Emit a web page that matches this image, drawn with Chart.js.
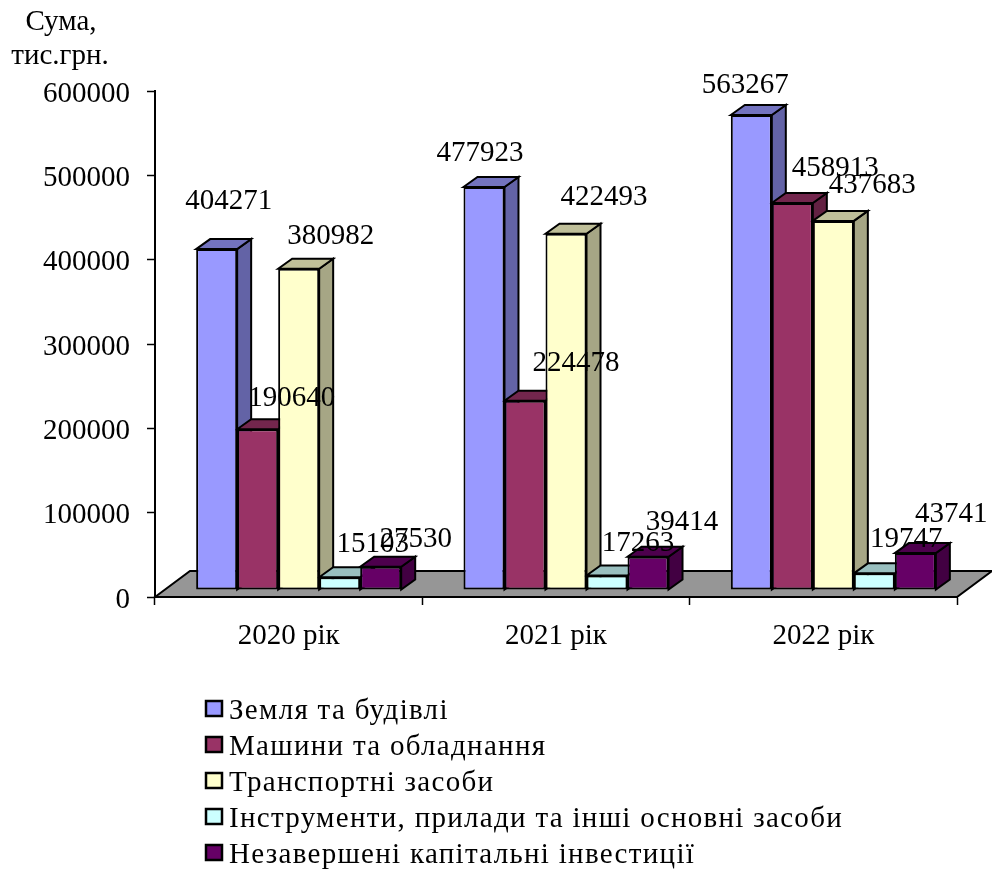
<!DOCTYPE html>
<html lang="uk">
<head>
<meta charset="utf-8">
<title>Основні засоби</title>
<style>html,body{margin:0;padding:0;background:#fff}canvas{display:block}</style>
<script src="https://cdn.jsdelivr.net/npm/chart.js@4/dist/chart.umd.min.js"></script>
</head>
<body>
<canvas id="c" width="992" height="872"></canvas>
<script>
const categories = ['2020 рік', '2021 рік', '2022 рік'];
const seriesNames = ['Земля та будівлі', 'Машини та обладнання', 'Транспортні засоби',
  'Інструменти, прилади та інші основні засоби', 'Незавершені капітальні інвестиції'];
const land = [404271, 477923, 563267];
const machines = [190640, 224478, 458913];
const transport = [380982, 422493, 437683];
const tools = [15103, 17263, 19747];
const unfinished = [27530, 39414, 43741];
const colours = ['#9999FF', '#993366', '#FFFFCC', '#CCFFFF', '#660066'];
const axisTitle = ['Сума,', 'тис.грн.'];
const FONT = '"Liberation Serif","Times New Roman",serif';

// styling: 3D projection and hand-placed data label offsets (dx, dy from the bar front-top centre)
const DX = 14, DY = 10, SHIFT_X = 10, SHIFT_Y = -7, LW = 2;
const labelOffsets = [
  [[12,-48],[-4,-34],[-6,-30]],
  [[34,-31],[51,-37],[43,-35]],
  [[32,-32],[38,-36],[39,-35]],
  [[33,-33],[31,-32],[32,-34]],
  [[35,-27],[34,-34],[36,-39]]
];

function shade(hex, k) {
  const n = parseInt(hex.slice(1), 16);
  return `rgb(${Math.round((n >> 16) * k)},${Math.round(((n >> 8) & 255) * k)},${Math.round((n & 255) * k)})`;
}
function poly(ctx, pts, fill) {
  ctx.beginPath();
  pts.forEach((p, i) => i ? ctx.lineTo(p[0], p[1]) : ctx.moveTo(p[0], p[1]));
  ctx.closePath();
  ctx.fillStyle = fill;
  ctx.fill();
  ctx.stroke();
}

const bars3d = {
  id: 'bars3d',
  beforeDatasetsDraw(chart) {
    const ctx = chart.ctx, a = chart.chartArea;
    ctx.save();
    ctx.lineWidth = LW;
    ctx.strokeStyle = '#000';
    ctx.lineJoin = 'miter';
    const fd = 26, fx = 35;
    poly(ctx, [[a.left, a.bottom], [a.left + fx, a.bottom - fd], [a.right + fx, a.bottom - fd], [a.right, a.bottom]], '#969696');
    ctx.translate(SHIFT_X, SHIFT_Y);
    chart.data.datasets.forEach((ds, i) => {
      chart.getDatasetMeta(i).data.forEach(el => {
        const l = el.x - el.width / 2, r = el.x + el.width / 2, t = el.y, b = el.base;
        poly(ctx, [[r, t], [r + DX, t - DY], [r + DX, b - DY], [r, b]], shade(colours[i], 0.65));
        poly(ctx, [[l, t], [l + DX, t - DY], [r + DX, t - DY], [r, t]], shade(colours[i], 0.75));
      });
    });
    // library bars (front faces) are drawn next, in the same shifted space
  },
  afterDatasetsDraw(chart) {
    const ctx = chart.ctx;
    ctx.restore();
    ctx.save();
    ctx.fillStyle = '#000';
    ctx.font = '29px ' + FONT;
    ctx.textAlign = 'center';
    ctx.textBaseline = 'middle';
    chart.data.datasets.forEach((ds, i) => {
      chart.getDatasetMeta(i).data.forEach((el, j) => {
        const o = labelOffsets[i][j];
        ctx.fillText(String(ds.data[j]), el.x + SHIFT_X + o[0], el.y + SHIFT_Y + o[1]);
      });
    });
    // axis title
    ctx.fillText(axisTitle[0], 61, 22);
    ctx.fillText(axisTitle[1], 60, 56);
    // legend
    ctx.textAlign = 'left';
    ctx.textBaseline = 'alphabetic';
    ctx.letterSpacing = '1.3px';
    ctx.lineWidth = 2.5;
    ctx.strokeStyle = '#000';
    chart.data.datasets.forEach((ds, i) => {
      const y = 701 + i * 36;
      ctx.fillStyle = colours[i];
      ctx.fillRect(206, y, 16, 15);
      ctx.strokeRect(206, y, 16, 15);
      ctx.fillStyle = '#000';
      ctx.fillText(ds.label, 229, 719 + i * 36);
    });
    ctx.restore();
  }
};

const series = [land, machines, transport, tools, unfinished];
new Chart(document.getElementById('c'), {
  type: 'bar',
  data: {
    labels: categories,
    datasets: series.map((d, i) => ({
      label: seriesNames[i],
      data: d,
      backgroundColor: colours[i],
      borderColor: '#000',
      borderWidth: LW,
      borderSkipped: false,
      clip: false,
      categoryPercentage: 0.767,
      barPercentage: 1
    }))
  },
  options: {
    responsive: false,
    animation: false,
    layout: { padding: { top: 91, right: 35, left: 0, bottom: 0 } },
    plugins: { legend: { display: false }, tooltip: { enabled: false }, title: { display: false } },
    scales: {
      x: {
        offset: true,
        afterFit(s) { s.height = 275; },
        border: { color: '#000', width: LW },
        grid: { drawOnChartArea: false, drawTicks: true, tickLength: 8, tickColor: '#000', tickWidth: 1.5, offset: true },
        ticks: { color: '#000', font: { family: FONT, size: 29 }, padding: 14, maxRotation: 0 }
      },
      y: {
        min: 0,
        max: 600000,
        afterFit(s) {
          s.width = 155;
          if (!s._labelsNudged) {
            s._labelsNudged = true;
            const orig = s.drawLabels;
            s.drawLabels = function (area) {
              this.ctx.save();
              this.ctx.translate(0, 3);
              orig.call(this, area);
              this.ctx.restore();
            };
          }
        },
        border: { color: '#000', width: LW },
        grid: { drawOnChartArea: false, drawTicks: true, tickLength: 8, tickColor: '#000', tickWidth: 1.5 },
        ticks: { color: '#000', font: { family: FONT, size: 29 }, padding: 17, stepSize: 100000, callback: v => String(v) }
      }
    }
  },
  plugins: [bars3d]
});
</script>
</body>
</html>
